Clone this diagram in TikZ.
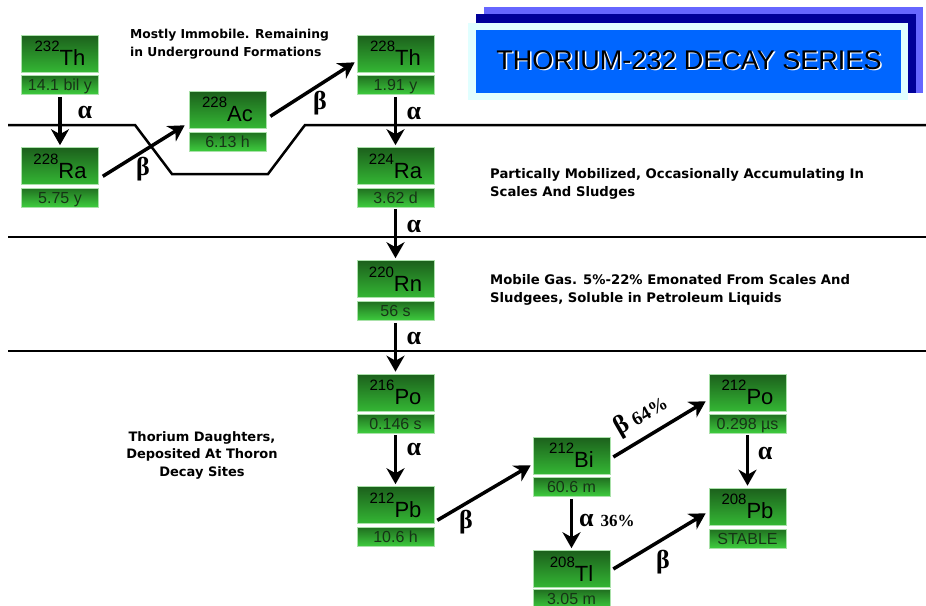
\documentclass[tikz,border=0pt]{standalone}
\usepackage{fontspec}
\setmainfont{Liberation Sans}
\newfontfamily\descfont{DejaVu Sans}
\newfontfamily\grkfont{Liberation Serif}
\usetikzlibrary{arrows.meta}
\definecolor{gtop}{RGB}{28,96,28}
\definecolor{gbot}{RGB}{52,182,52}
\definecolor{htop}{RGB}{32,112,32}
\definecolor{hbot}{RGB}{62,204,62}
\definecolor{gedge}{RGB}{170,225,170}
\definecolor{htext}{RGB}{22,52,22}
\definecolor{tpurple}{RGB}{102,102,255}
\definecolor{tnavy}{RGB}{0,0,153}
\definecolor{tblue}{RGB}{0,102,255}
\definecolor{tcyan}{RGB}{225,255,255}
\newcommand\isolabel[2]{\raisebox{14pt}{\fontsize{15}{15}\selectfont #1}\fontsize{22}{22}\selectfont #2}
\begin{document}
\begin{tikzpicture}[x=1pt,y=-1pt,
  isobox/.style={rectangle, minimum width=77pt, minimum height=37pt, inner sep=0pt,
    top color=gtop, bottom color=gbot, draw=gedge, line width=0.6pt, text=black},
  halfbox/.style={rectangle, minimum width=77pt, minimum height=19pt, inner sep=0pt,
    top color=htop, bottom color=hbot, draw=gedge, line width=0.6pt, text=htext,
    font=\fontsize{16}{16}\selectfont, text height=11.5pt, text depth=0pt},
  arr/.style={line width=3.5pt, -{Stealth[length=16pt,width=18pt,inset=5pt]}},
  varr/.style={arr, shorten <=2pt, shorten >=2pt},
  divider/.style={line width=2.5pt, black},
  grk/.style={font=\grkfont\bfseries\fontsize{26}{26}\selectfont, inner sep=0pt},
  desc/.style={font=\descfont\bfseries\fontsize{13.2}{18}\selectfont, inner sep=0pt},
  ttl/.style={font=\fontsize{27}{27}\selectfont, inner sep=0pt}
]
\fill[white] (0,0) rectangle (926,605);
\useasboundingbox (0,0) rectangle (926,605);

% title block
\fill[tpurple] (484,7) rectangle (923,93);
\fill[tnavy] (476,14) rectangle (916,93);
\fill[tcyan] (468,23) rectangle (908,100);
\fill[tblue] (476,30) rectangle (901,93);
\node[ttl, text=white] (titleshadow) at (690.5,61.5) {THORIUM-232 DECAY SERIES};
\node[ttl, text=black] (title) at (689,60) {THORIUM-232 DECAY SERIES};

% dividers
\draw[divider] (8,125) -- (135,125) -- (172,174) -- (268,174) -- (305,125) -- (926,125);
\draw[divider] (8,237) -- (926,237);
\draw[divider] (8,351) -- (926,351);

% isotopes
\node[isobox] (th232) at (60,53.5) {\isolabel{232}{Th}};
\node[halfbox] (th232t) at (60,85) {14.1 bil y};
\node[isobox] (ra228) at (60,166) {\isolabel{228}{Ra}};
\node[halfbox] (ra228t) at (60,197.5) {5.75 y};
\node[isobox] (ac228) at (227.5,109.5) {\isolabel{228}{Ac}};
\node[halfbox] (ac228t) at (227.5,141.5) {6.13 h};
\node[isobox] (th228) at (395.5,53.5) {\isolabel{228}{Th}};
\node[halfbox] (th228t) at (395.5,85) {1.91 y};
\node[isobox] (ra224) at (395.5,166) {\isolabel{224}{Ra}};
\node[halfbox] (ra224t) at (395.5,197.5) {3.62 d};
\node[isobox] (rn220) at (395.5,279) {\isolabel{220}{Rn}};
\node[halfbox] (rn220t) at (395.5,311) {56 s};
\node[isobox] (po216) at (395.5,392.5) {\isolabel{216}{Po}};
\node[halfbox] (po216t) at (395.5,423.5) {0.146 s};
\node[isobox] (pb212) at (395.5,505) {\isolabel{212}{Pb}};
\node[halfbox] (pb212t) at (395.5,537) {10.6 h};
\node[isobox] (bi212) at (571.5,455.5) {\isolabel{212}{Bi}};
\node[halfbox] (bi212t) at (571.5,487) {60.6 m};
\node[isobox] (tl208) at (571.5,569) {\isolabel{208}{Tl}};
\node[halfbox] (tl208t) at (571.5,599) {3.05 m};
\node[isobox] (po212) at (747.5,392.5) {\isolabel{212}{Po}};
\node[halfbox] (po212t) at (747.5,423.5) {0.298 µs};
\node[isobox] (pb208) at (747.5,506.5) {\isolabel{208}{Pb}};
\node[halfbox] (pb208t) at (747.5,538.5) {STABLE};

% decays
\draw[varr] (th232t.south) -- (ra228.north);
\draw[arr] ([shift={(4,-8.5)}]ra228.south east) -- ([shift={(-4,-3)}]ac228.south west);
\draw[arr] ([shift={(4,-12)}]ac228.south east) -- ([shift={(-2,-10)}]th228.south west);
\draw[varr] (th228t.south) -- (ra224.north);
\draw[varr] (ra224t.south) -- (rn220.north);
\draw[varr] (rn220t.south) -- (po216.north);
\draw[varr] (po216t.south) -- (pb212.north);
\draw[arr] ([shift={(3,-3.5)}]pb212.south east) -- ([shift={(-2,-9)}]bi212.south west);
\draw[arr] ([shift={(3,1.5)}]bi212.east) -- ([shift={(-3,-10)}]po212.south west);
\draw[varr] (bi212t.south) -- (tl208.north);
\draw[arr] ([shift={(3,0)}]tl208.east) -- ([shift={(-3,-12)}]pb208.south west);
\draw[varr] (po212t.south) -- (pb208.north);

% decay labels
\node[grk, anchor=base] (a1) at (85,118) {α};
\node[grk, anchor=base] (b1) at (143,175) {β};
\node[grk, anchor=base] (b2) at (320,109) {β};
\node[grk, anchor=base] (a2) at (414,119) {α};
\node[grk, anchor=base] (a3) at (414,232) {α};
\node[grk, anchor=base] (a4) at (414,344) {α};
\node[grk, anchor=base] (a5) at (414,455) {α};
\node[grk, anchor=base] (b3) at (466,528) {β};
\node[grk, anchor=base west] (a6) at (579,526) {α\hspace{7pt}{\fontsize{17}{17}\selectfont 36\%}};
\node[grk, rotate=30, anchor=base west] (b4) at (619,436) {β\hspace{6pt}{\fontsize{19}{19}\selectfont 64\%}};
\node[grk, anchor=base] (a7) at (765,459) {α};
\node[grk, anchor=base] (b5) at (663,568) {β};

% descriptions
\node[desc, anchor=north west, align=left, font=\descfont\bfseries\fontsize{12.3}{18}\selectfont] (d1) at (130,28.6) {Mostly Immobile. Remaining\\in Underground Formations};
\node[desc, anchor=north west, align=left] (d2) at (490,168.2) {Partically Mobilized, Occasionally Accumulating In\\Scales And Sludges};
\node[desc, anchor=north west, align=left] (d3) at (490,274.2) {Mobile Gas. 5\%-22\% Emonated From Scales And\\Sludgees, Soluble in Petroleum Liquids};
\node[desc, anchor=north, align=center, font=\descfont\bfseries\fontsize{13}{17.5}\selectfont] (d4) at (202,431.3) {Thorium Daughters,\\Deposited At Thoron\\Decay Sites};
\end{tikzpicture}
\end{document}
